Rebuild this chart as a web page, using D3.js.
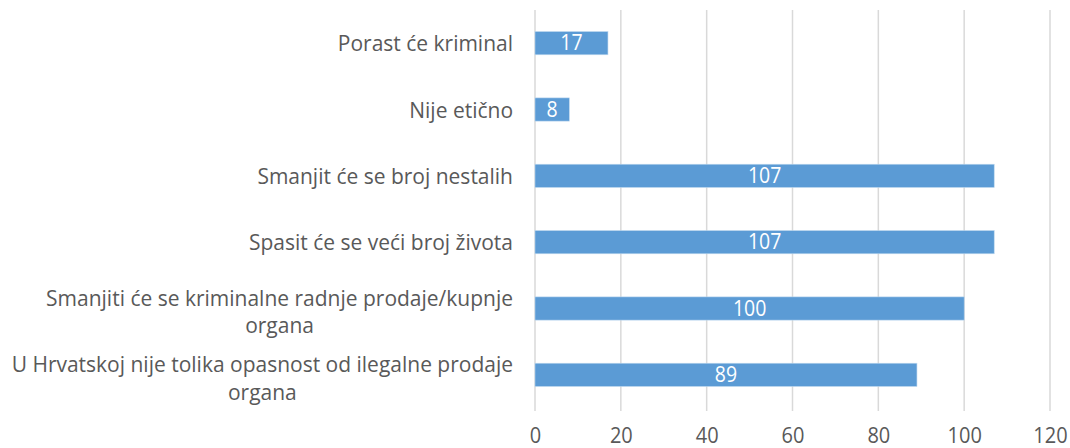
<!DOCTYPE html>
<html><head><meta charset="utf-8">
<script src="https://cdn.jsdelivr.net/npm/d3@7"></script>
<style>body{margin:0;background:#fff}svg text{font-family:"Open Sans",sans-serif}</style>
</head><body><svg id="c" width="1070" height="448"></svg>
<script>
const categories = [
  ["Porast će kriminal"],
  ["Nije etično "],
  ["Smanjit će se broj nestalih"],
  ["Spasit će se veći broj života"],
  ["Smanjiti će se kriminalne radnje prodaje/kupnje", "organa"],
  ["U Hrvatskoj nije tolika opasnost od ilegalne prodaje", "organa"]
];
const values = [17, 8, 107, 107, 100, 89];
const tickValues = [0, 20, 40, 60, 80, 100, 120];

const svg = d3.select("#c");
const x = d3.scaleLinear().domain([0, 120]).range([535, 1050]);
const y = d3.scaleBand().domain(d3.range(categories.length)).range([10, 408]).paddingInner(0.65).paddingOuter(0.325);

// gridlines
svg.append("g").selectAll("line").data(tickValues).join("line")
  .attr("x1", d => x(d)).attr("x2", d => x(d))
  .attr("y1", 10).attr("y2", 411)
  .attr("stroke", "#d9d9d9").attr("stroke-width", 1.5);

// axis labels
const ax = svg.append("g").attr("transform", "translate(0,443)")
  .call(d3.axisBottom(x).tickValues(tickValues).tickSize(0).tickPadding(0));
ax.select(".domain").remove();
ax.selectAll("text").attr("fill", "#595959").attr("font-size", 20).attr("dy", 0).attr("y", 0)
  .attr("transform", "scale(1,1.12)")
  .style("font-family", '"Open Sans",sans-serif');

// bars
svg.append("g").selectAll("rect").data(values).join("rect")
  .attr("x", x(0)).attr("y", (d, i) => y(i))
  .attr("width", d => x(d) - x(0)).attr("height", y.bandwidth())
  .attr("fill", "#5b9bd5").attr("stroke", "#bdd7ee").attr("stroke-width", 0.6);

// value labels
svg.append("g").selectAll("g").data(values).join("g")
  .attr("transform", (d, i) => `translate(${(x(0) + x(d)) / 2},${y(i) + y.bandwidth() / 2 + 7})`)
  .append("text").attr("transform", "scale(1,1.1)")
  .attr("text-anchor", "middle")
  .attr("fill", "#fff").attr("font-size", 19.5).text(d => d);

// category labels
const lg = svg.append("g");
categories.forEach((lines, i) => {
  const cy = y(i) + y.bandwidth() / 2;
  const n = lines.length;
  const ts = lines.map((t, k) => {
    const g = lg.append("g");
    const tx = g.append("text").attr("font-size", 21).attr("fill", "#595959")
      .attr("text-anchor", "middle").attr("transform", "scale(1,1.08)").text(t);
    return {g, tx, k};
  });
  const w = d3.max(ts, o => o.tx.node().getComputedTextLength());
  const right = 513;
  ts.forEach(o => o.g.attr("transform",
    `translate(${right - w / 2},${cy + (o.k - (n - 1) / 2) * 27.5 + (n > 1 ? 3 : 0) + 8})`));
});
</script></body></html>
